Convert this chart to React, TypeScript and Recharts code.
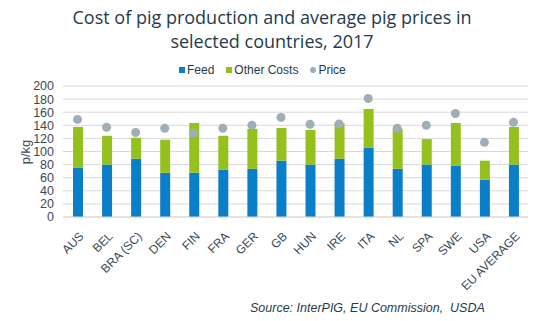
import React from 'react';
import { ComposedChart, Bar, Line, XAxis, YAxis, CartesianGrid } from 'recharts';

const countries = ['AUS', 'BEL', 'BRA (SC)', 'DEN', 'FIN', 'FRA', 'GER', 'GB', 'HUN', 'IRE', 'ITA', 'NL', 'SPA', 'SWE', 'USA', 'EU AVERAGE'];
const feed = [75, 80, 89, 67.5, 67.5, 72, 73.5, 86, 80, 89, 105.5, 73.5, 80, 78, 57, 80];
const otherCosts = [62.5, 44, 32, 50.5, 76, 52, 61, 50, 53, 54.5, 59.5, 61, 39, 65.5, 29, 57.5];
const price = [149, 137, 129, 135.5, 128, 135.5, 140, 152, 141.5, 142, 181, 135.5, 140, 158, 114, 144.5];
const yTicks = [0, 20, 40, 60, 80, 100, 120, 140, 160, 180, 200];

const COLORS = { feed: '#0a7fc7', other: '#95c11f', price: '#a0aeb8' };
const TEXT = '#1f3b4d';
const AXIS_TEXT = '#3b4a55';
const FONT = 'Liberation Sans, Arial, sans-serif';

const data = countries.map((name, i) => ({
  name,
  feed: feed[i],
  other: otherCosts[i],
  price: price[i],
}));

const CountryTick = (props: any) => {
  const { x, y, payload } = props;
  return (
    <g transform={`translate(${x + 4},${y + 9})`}>
      <text textAnchor="end" transform="rotate(-45)" fontSize={12} fill={AXIS_TEXT} fontFamily={FONT} dy="0.35em">
        {payload.value}
      </text>
    </g>
  );
};

const legendItems = [
  { label: 'Feed', color: COLORS.feed, round: false },
  { label: 'Other Costs', color: COLORS.other, round: false },
  { label: 'Price', color: COLORS.price, round: true },
];

export default function App() {
  return (
    <div style={{ position: 'absolute', left: 0, top: 0, width: 544, height: 321, background: '#fff' }}>
      <div
        style={{
          position: 'absolute', left: 0, top: 5, width: 544, textAlign: 'center',
          fontFamily: 'Open Sans, sans-serif', fontSize: 18, lineHeight: '24px', color: TEXT,
        }}
      >
        <div>Cost of pig production and average pig prices in</div>
        <div>selected countries, 2017</div>
      </div>
      <div
        style={{
          position: 'absolute', left: 179, top: 63, display: 'flex', gap: 12,
          fontSize: 12, color: TEXT, fontFamily: FONT,
        }}
      >
        {legendItems.map((it) => (
          <div key={it.label} style={{ display: 'flex', alignItems: 'center', gap: 2 }}>
            <div style={{ width: 6, height: 6, background: it.color, borderRadius: it.round ? '50%' : 0 }}></div>
            {it.label}
          </div>
        ))}
      </div>
      <svg width={34} height={321} style={{ position: 'absolute', left: 0, top: 0 }}>
        <text
          x={25}
          y={152}
          transform="rotate(-90, 25, 152)"
          textAnchor="middle"
          dominantBaseline="central"
          fontSize={13}
          fill={AXIS_TEXT}
          fontFamily={FONT}
        >
          p/kg
        </text>
      </svg>
      <ComposedChart
        width={544}
        height={321}
        data={data}
        margin={{ top: 86, right: 16, bottom: 0, left: 0 }}
        style={{ position: 'absolute', left: 0, top: 0 }}
      >
        <CartesianGrid vertical={false} stroke="#d9d9d9" />
        <XAxis
          dataKey="name"
          interval={0}
          height={104}
          tick={<CountryTick />}
          tickLine={false}
          axisLine={{ stroke: '#d9d9d9' }}
        />
        <YAxis
          width={63}
          domain={[0, 200]}
          ticks={yTicks}
          tickLine={false}
          axisLine={false}
          tickMargin={3}
          interval={0}
          tick={{ fontSize: 12.5, fill: AXIS_TEXT, fontFamily: FONT }}
        />
        <Bar dataKey="feed" stackId="a" fill={COLORS.feed} barSize={10} isAnimationActive={false} />
        <Bar dataKey="other" stackId="a" fill={COLORS.other} barSize={10} isAnimationActive={false} />
        <Line
          dataKey="price"
          stroke="none"
          dot={{ r: 4.5, fill: COLORS.price, stroke: 'none' }}
          activeDot={false}
          isAnimationActive={false}
        />
      </ComposedChart>
      <div
        style={{
          position: 'absolute', left: 250, top: 301, fontSize: 12.5, fontStyle: 'italic', color: TEXT,
          fontFamily: FONT, whiteSpace: 'pre',
        }}
      >
        {'Source: InterPIG, EU Commission,  USDA'}
      </div>
    </div>
  );
}
